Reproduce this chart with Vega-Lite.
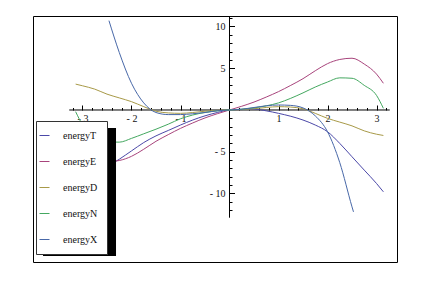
{
  "$schema": "https://vega.github.io/schema/vega-lite/v6.json",
  "width": 364,
  "height": 246,
  "autosize": {"type": "none"},
  "padding": {"left": 33, "top": 16, "right": 36, "bottom": 22},
  "background": "white",
  "config": {"view": {"stroke": "#000", "strokeWidth": 1}, "font": "Liberation Serif"},
  "layer": [
    {
      "data": {"values": [{}]},
      "mark": {"type": "rule", "color": "#000", "strokeWidth": 1},
      "encoding": {"x": {"datum": -3.27}, "x2": {"datum": 3.27}, "y": {"datum": 0}}
    },
    {
      "data": {"values": [{}]},
      "mark": {"type": "rule", "color": "#000", "strokeWidth": 1},
      "encoding": {"x": {"datum": 0}, "y": {"datum": -12.9}, "y2": {"datum": 11.14}}
    },
    {
      "data": {"values": [
        {"series": "energyT", "x": -3.14, "y": -9.6}, {"series": "energyT", "x": -3, "y": -9.0}, {"series": "energyT", "x": -2.75, "y": -7.9}, {"series": "energyT", "x": -2.5, "y": -6.8}, {"series": "energyT", "x": -2.25, "y": -5.9}, {"series": "energyT", "x": -2, "y": -4.9}, {"series": "energyT", "x": -1.75, "y": -3.9}, {"series": "energyT", "x": -1.5, "y": -3.1}, {"series": "energyT", "x": -1.25, "y": -2.45}, {"series": "energyT", "x": -1, "y": -1.8}, {"series": "energyT", "x": -0.75, "y": -1.2}, {"series": "energyT", "x": -0.5, "y": -0.7}, {"series": "energyT", "x": -0.25, "y": -0.3}, {"series": "energyT", "x": 0, "y": 0}, {"series": "energyT", "x": 0.25, "y": 0.05}, {"series": "energyT", "x": 0.5, "y": 0.1}, {"series": "energyT", "x": 0.75, "y": -0.1}, {"series": "energyT", "x": 1, "y": -0.4}, {"series": "energyT", "x": 1.25, "y": -0.75}, {"series": "energyT", "x": 1.5, "y": -1.2}, {"series": "energyT", "x": 1.75, "y": -1.8}, {"series": "energyT", "x": 2, "y": -2.6}, {"series": "energyT", "x": 2.25, "y": -4.0}, {"series": "energyT", "x": 2.5, "y": -5.6}, {"series": "energyT", "x": 2.75, "y": -7.2}, {"series": "energyT", "x": 3, "y": -8.8}, {"series": "energyT", "x": 3.14, "y": -9.8},

        {"series": "energyE", "x": -3.14, "y": -3.2}, {"series": "energyE", "x": -3, "y": -4.3}, {"series": "energyE", "x": -2.75, "y": -5.5}, {"series": "energyE", "x": -2.5, "y": -6.2}, {"series": "energyE", "x": -2.25, "y": -6.05}, {"series": "energyE", "x": -2, "y": -5.55}, {"series": "energyE", "x": -1.75, "y": -4.7}, {"series": "energyE", "x": -1.5, "y": -3.75}, {"series": "energyE", "x": -1.25, "y": -2.95}, {"series": "energyE", "x": -1, "y": -2.2}, {"series": "energyE", "x": -0.75, "y": -1.55}, {"series": "energyE", "x": -0.5, "y": -0.95}, {"series": "energyE", "x": -0.25, "y": -0.45}, {"series": "energyE", "x": 0, "y": 0}, {"series": "energyE", "x": 0.25, "y": 0.45}, {"series": "energyE", "x": 0.5, "y": 0.95}, {"series": "energyE", "x": 0.75, "y": 1.55}, {"series": "energyE", "x": 1, "y": 2.2}, {"series": "energyE", "x": 1.25, "y": 2.95}, {"series": "energyE", "x": 1.5, "y": 3.75}, {"series": "energyE", "x": 1.75, "y": 4.7}, {"series": "energyE", "x": 2, "y": 5.55}, {"series": "energyE", "x": 2.25, "y": 6.05}, {"series": "energyE", "x": 2.5, "y": 6.2}, {"series": "energyE", "x": 2.75, "y": 5.5}, {"series": "energyE", "x": 3, "y": 4.3}, {"series": "energyE", "x": 3.14, "y": 3.2},

        {"series": "energyD", "x": -3.14, "y": 3.1}, {"series": "energyD", "x": -3, "y": 2.9}, {"series": "energyD", "x": -2.75, "y": 2.5}, {"series": "energyD", "x": -2.5, "y": 1.9}, {"series": "energyD", "x": -2.25, "y": 1.45}, {"series": "energyD", "x": -2, "y": 1.0}, {"series": "energyD", "x": -1.75, "y": 0.4}, {"series": "energyD", "x": -1.5, "y": -0.15}, {"series": "energyD", "x": -1.25, "y": -0.35}, {"series": "energyD", "x": -1, "y": -0.4}, {"series": "energyD", "x": -0.75, "y": -0.3}, {"series": "energyD", "x": -0.5, "y": -0.15}, {"series": "energyD", "x": -0.25, "y": -0.05}, {"series": "energyD", "x": 0, "y": 0}, {"series": "energyD", "x": 0.25, "y": 0.05}, {"series": "energyD", "x": 0.5, "y": 0.15}, {"series": "energyD", "x": 0.75, "y": 0.3}, {"series": "energyD", "x": 1, "y": 0.4}, {"series": "energyD", "x": 1.25, "y": 0.35}, {"series": "energyD", "x": 1.5, "y": 0.15}, {"series": "energyD", "x": 1.75, "y": -0.4}, {"series": "energyD", "x": 2, "y": -1.0}, {"series": "energyD", "x": 2.25, "y": -1.45}, {"series": "energyD", "x": 2.5, "y": -1.9}, {"series": "energyD", "x": 2.75, "y": -2.5}, {"series": "energyD", "x": 3, "y": -2.9}, {"series": "energyD", "x": 3.14, "y": -3.05},

        {"series": "energyN", "x": -3.14, "y": -0.2}, {"series": "energyN", "x": -3, "y": -1.75}, {"series": "energyN", "x": -2.75, "y": -2.95}, {"series": "energyN", "x": -2.5, "y": -3.8}, {"series": "energyN", "x": -2.25, "y": -3.85}, {"series": "energyN", "x": -2, "y": -3.4}, {"series": "energyN", "x": -1.75, "y": -2.85}, {"series": "energyN", "x": -1.5, "y": -2.3}, {"series": "energyN", "x": -1.25, "y": -1.7}, {"series": "energyN", "x": -1, "y": -1.05}, {"series": "energyN", "x": -0.75, "y": -0.6}, {"series": "energyN", "x": -0.5, "y": -0.3}, {"series": "energyN", "x": -0.25, "y": -0.1}, {"series": "energyN", "x": 0, "y": 0}, {"series": "energyN", "x": 0.25, "y": 0.1}, {"series": "energyN", "x": 0.5, "y": 0.25}, {"series": "energyN", "x": 0.75, "y": 0.5}, {"series": "energyN", "x": 1, "y": 0.85}, {"series": "energyN", "x": 1.25, "y": 1.4}, {"series": "energyN", "x": 1.5, "y": 2.05}, {"series": "energyN", "x": 1.75, "y": 2.75}, {"series": "energyN", "x": 2, "y": 3.35}, {"series": "energyN", "x": 2.25, "y": 3.85}, {"series": "energyN", "x": 2.5, "y": 3.8}, {"series": "energyN", "x": 2.75, "y": 2.95}, {"series": "energyN", "x": 3, "y": 1.75}, {"series": "energyN", "x": 3.14, "y": 0.2},

        {"series": "energyX", "x": -2.46, "y": 10.7}, {"series": "energyX", "x": -2.25, "y": 6.9}, {"series": "energyX", "x": -2, "y": 3.2}, {"series": "energyX", "x": -1.75, "y": 0.85}, {"series": "energyX", "x": -1.5, "y": -0.3}, {"series": "energyX", "x": -1.25, "y": -0.55}, {"series": "energyX", "x": -1, "y": -0.55}, {"series": "energyX", "x": -0.75, "y": -0.45}, {"series": "energyX", "x": -0.5, "y": -0.3}, {"series": "energyX", "x": -0.25, "y": -0.1}, {"series": "energyX", "x": 0, "y": 0}, {"series": "energyX", "x": 0.25, "y": 0.1}, {"series": "energyX", "x": 0.5, "y": 0.3}, {"series": "energyX", "x": 0.75, "y": 0.5}, {"series": "energyX", "x": 1, "y": 0.6}, {"series": "energyX", "x": 1.25, "y": 0.55}, {"series": "energyX", "x": 1.5, "y": 0.25}, {"series": "energyX", "x": 1.75, "y": -0.7}, {"series": "energyX", "x": 2, "y": -2.6}, {"series": "energyX", "x": 2.25, "y": -6.3}, {"series": "energyX", "x": 2.5, "y": -11.6}, {"series": "energyX", "x": 2.53, "y": -12.2}
      ]},
      "mark": {"type": "line", "strokeWidth": 1, "clip": true, "interpolate": "monotone"},
      "encoding": {
        "x": {
          "field": "x", "type": "quantitative",
          "scale": {"domain": [-4.01, 3.418], "nice": false, "zero": false},
          "axis": {
            "orient": "bottom", "offset": -152, "domain": false, "grid": false, "title": null,
            "values": [-3.2, -3, -2.8, -2.6, -2.4, -2.2, -2, -1.8, -1.6, -1.4, -1.2, -1, -0.8, -0.6, -0.4, -0.2, 0.2, 0.4, 0.6, 0.8, 1, 1.2, 1.4, 1.6, 1.8, 2, 2.2, 2.4, 2.6, 2.8, 3, 3.2],
            "tickCount": 200,
            "tickColor": "#000", "tickWidth": 1,
            "tickSize": {"condition": {"test": "abs(datum.value - round(datum.value)) < 0.001", "value": -5}, "value": -2.5},
            "labelExpr": "abs(datum.value - round(datum.value)) < 0.001 ? (datum.value < 0 ? '- ' + abs(round(datum.value)) : '' + round(datum.value)) : ''",
            "labelFont": "Liberation Serif", "labelFontSize": 10, "labelColor": "#111",
            "labelPadding": 8, "labelFlush": false, "labelOverlap": false, "labelBound": false
          }
        },
        "y": {
          "field": "y", "type": "quantitative",
          "scale": {"domain": [-18.204, 11.257], "nice": false, "zero": false},
          "axis": {
            "orient": "left", "offset": -196.5, "domain": false, "grid": false, "title": null,
            "values": [-12, -11, -10, -9, -8, -7, -6, -5, -4, -3, -2, -1, 1, 2, 3, 4, 5, 6, 7, 8, 9, 10, 11],
            "tickCount": 200,
            "tickColor": "#000", "tickWidth": 1,
            "tickSize": {"condition": {"test": "datum.value % 5 == 0", "value": -5}, "value": -2.5},
            "labelExpr": "datum.value % 5 == 0 ? (datum.value < 0 ? '- ' + abs(datum.value) : '' + datum.value) : ''",
            "labelFont": "Liberation Serif", "labelFontSize": 10, "labelColor": "#111",
            "labelPadding": 9.5, "labelFlush": false, "labelOverlap": false, "labelBound": false
          }
        },
        "color": {
          "field": "series", "type": "nominal",
          "scale": {"domain": ["energyT", "energyE", "energyD", "energyN", "energyX"], "range": ["#4B48A8", "#A8447C", "#A89A48", "#44A860", "#4868A8"]},
          "legend": {
            "orient": "none", "legendX": 3, "legendY": 105, "title": null,
            "fillColor": "white", "strokeColor": "#333", "padding": 9, "rowPadding": 15,
            "symbolType": "stroke", "symbolSize": 100, "symbolStrokeWidth": 1, "symbolOffset": -6,
            "labelOffset": 13, "labelFont": "Liberation Serif", "labelFontSize": 10, "labelColor": "#111",
            "labelExpr": "datum.label + '\u00a0\u00a0\u00a0'"
          }
        }
      }
    },
    {
      "data": {"values": [{}]},
      "mark": {"type": "rect", "color": "#000"},
      "encoding": {"x": {"datum": -3.806}, "x2": {"datum": -2.316}, "y": {"datum": -2.156}, "y2": {"datum": -17.485}}
    }
  ]
}
